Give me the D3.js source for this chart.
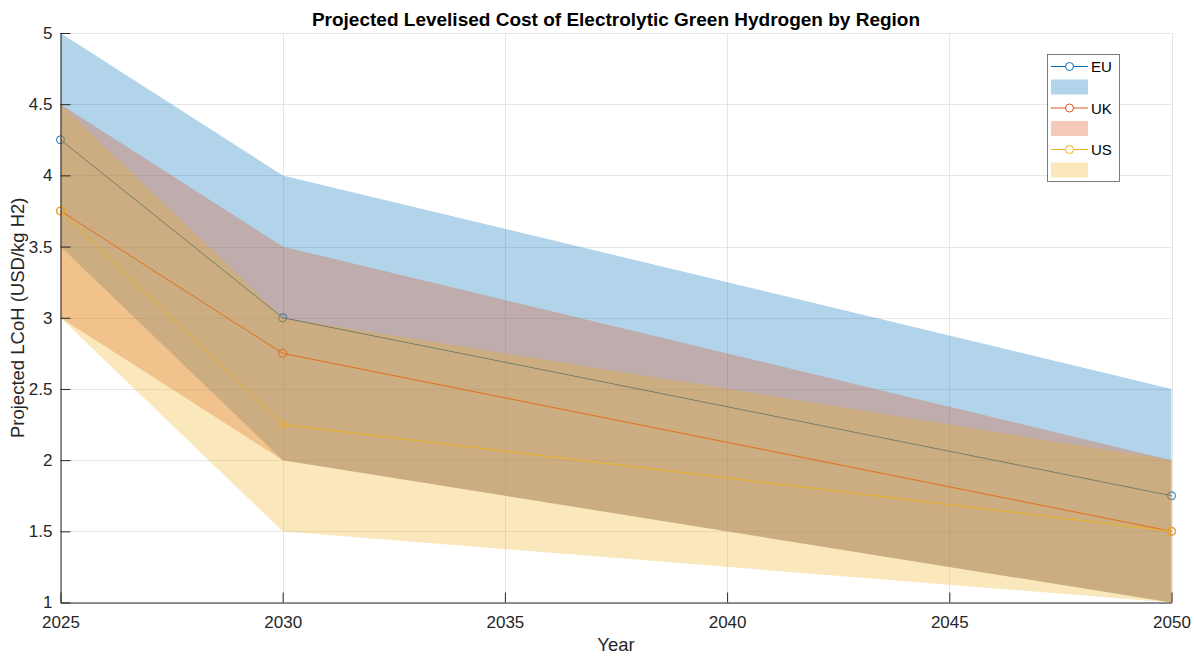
<!DOCTYPE html>
<html>
<head>
<meta charset="utf-8">
<script src="https://cdn.jsdelivr.net/npm/d3@7"></script>
<style>
  html, body { margin: 0; padding: 0; background: #fff; }
  svg { display: block; font-family: "Liberation Sans", Arial, Helvetica, sans-serif; }
</style>
</head>
<body>
<svg id="chart" width="1194" height="657"></svg>
<script>
// Projection years
const years = [2025, 2030, 2050];

// Central LCoH estimates (USD/kg H2)
const euMean = [4.25, 3.0, 1.75];
const ukMean = [3.75, 2.75, 1.5];
const usMean = [3.75, 2.25, 1.5];

// Uncertainty range, low and high
const euLow  = [3.5, 2.0, 1.0];
const euHigh = [5.0, 4.0, 2.5];
const ukLow  = [3.0, 2.0, 1.0];
const ukHigh = [4.5, 3.5, 2.0];
const usLow  = [3.0, 1.5, 1.0];
const usHigh = [4.5, 3.0, 2.0];

const regionNames = ["EU", "UK", "US"];
const regionColors = ["#0072BD", "#D95319", "#EDB120"];

const xTicks = [2025, 2030, 2035, 2040, 2045, 2050];
const yTicks = [1, 1.5, 2, 2.5, 3, 3.5, 4, 4.5, 5];

const regions = [
  { name: regionNames[0], color: regionColors[0], mean: euMean, low: euLow, high: euHigh },
  { name: regionNames[1], color: regionColors[1], mean: ukMean, low: ukLow, high: ukHigh },
  { name: regionNames[2], color: regionColors[2], mean: usMean, low: usLow, high: usHigh }
];

const svg = d3.select("#chart");
const L = 60.5, R = 1171.5, T = 33, B = 602.5;

const x = d3.scaleLinear().domain([2025, 2050]).range([L, R]);
const y = d3.scaleLinear().domain([1, 5]).range([B, T]);

// Grid
const grid = svg.append("g").attr("stroke", "#e6e6e6").attr("stroke-width", 1);
xTicks.forEach(t => grid.append("line")
  .attr("x1", Math.round(x(t)) + 0.5).attr("x2", Math.round(x(t)) + 0.5)
  .attr("y1", T).attr("y2", B));
yTicks.forEach(t => grid.append("line")
  .attr("x1", L).attr("x2", R)
  .attr("y1", Math.round(y(t)) + 0.5).attr("y2", Math.round(y(t)) + 0.5));

// Each region: line with markers first, then its translucent band on top
const plot = svg.append("g");
const lineGen = d3.line().x((d, i) => x(years[i])).y(d => y(d));
const areaGen = d3.area()
  .x(d => x(d.yr)).y0(d => y(d.lo)).y1(d => y(d.hi));

regions.forEach(r => {
  plot.append("path")
    .attr("d", lineGen(r.mean))
    .attr("fill", "none")
    .attr("stroke", r.color)
    .attr("stroke-width", 1);
  plot.selectAll(null).data(r.mean).enter().append("circle")
    .attr("cx", (d, i) => x(years[i]))
    .attr("cy", d => y(d))
    .attr("r", 4)
    .attr("fill", "none")
    .attr("stroke", r.color)
    .attr("stroke-width", 1);
  const band = years.map((yr, i) => ({ yr, lo: r.low[i], hi: r.high[i] }));
  plot.append("path")
    .attr("d", areaGen(band))
    .attr("fill", r.color)
    .attr("fill-opacity", 0.3)
    .attr("stroke", "none");
});

// Axes
const axisColor = "#262626";
const xAxis = d3.axisBottom(x).tickValues(xTicks).tickFormat(d3.format("d"))
  .tickSizeInner(-10).tickSizeOuter(0).tickPadding(13);
const yAxis = d3.axisLeft(y).tickValues(yTicks).tickFormat(d => String(d))
  .tickSizeInner(-10).tickSizeOuter(0).tickPadding(8);

const gx = svg.append("g").attr("transform", `translate(0,${B})`).call(xAxis);
const gy = svg.append("g").attr("transform", `translate(${L},0)`).call(yAxis);
[gx, gy].forEach(g => {
  g.select(".domain").attr("stroke", axisColor);
  g.selectAll(".tick line").attr("stroke", axisColor);
  g.selectAll(".tick text").attr("fill", axisColor)
    .attr("font-size", "17px")
    .attr("font-family", "'Liberation Sans', Arial, sans-serif");
});
gy.select(".domain").attr("d", `M0.5,${B}V${T}`);

// Title and axis labels
svg.append("text")
  .attr("x", (L + R) / 2).attr("y", 26)
  .attr("text-anchor", "middle")
  .attr("font-weight", "bold").attr("font-size", "19px")
  .attr("fill", "#000")
  .text("Projected Levelised Cost of Electrolytic Green Hydrogen by Region");

svg.append("text")
  .attr("x", (L + R) / 2).attr("y", 651)
  .attr("text-anchor", "middle").attr("font-size", "18.5px")
  .attr("fill", axisColor)
  .text("Year");

svg.append("text")
  .attr("transform", `translate(24,${(T + B) / 2}) rotate(-90)`)
  .attr("text-anchor", "middle").attr("font-size", "18.5px")
  .attr("fill", axisColor)
  .text("Projected LCoH (USD/kg H2)");

// Legend
const lg = svg.append("g");
lg.append("rect")
  .attr("x", 1047.5).attr("y", 54.5).attr("width", 72).attr("height", 127)
  .attr("fill", "#fff").attr("stroke", "#5a5a5a").attr("stroke-width", 0.8);
regions.forEach((r, i) => {
  const ly = 66.5 + i * 41.5;
  lg.append("line")
    .attr("x1", 1051).attr("x2", 1088).attr("y1", ly).attr("y2", ly)
    .attr("stroke", r.color).attr("stroke-width", 1);
  lg.append("circle")
    .attr("cx", 1069.5).attr("cy", ly).attr("r", 4)
    .attr("fill", "#fff").attr("stroke", r.color);
  lg.append("text")
    .attr("x", 1091).attr("y", ly + 5.5)
    .attr("font-size", "15px").attr("fill", "#000")
    .text(r.name);
  lg.append("rect")
    .attr("x", 1051).attr("y", ly + 13).attr("width", 37).attr("height", 15)
    .attr("fill", r.color).attr("fill-opacity", 0.3);
});
</script>
</body>
</html>
